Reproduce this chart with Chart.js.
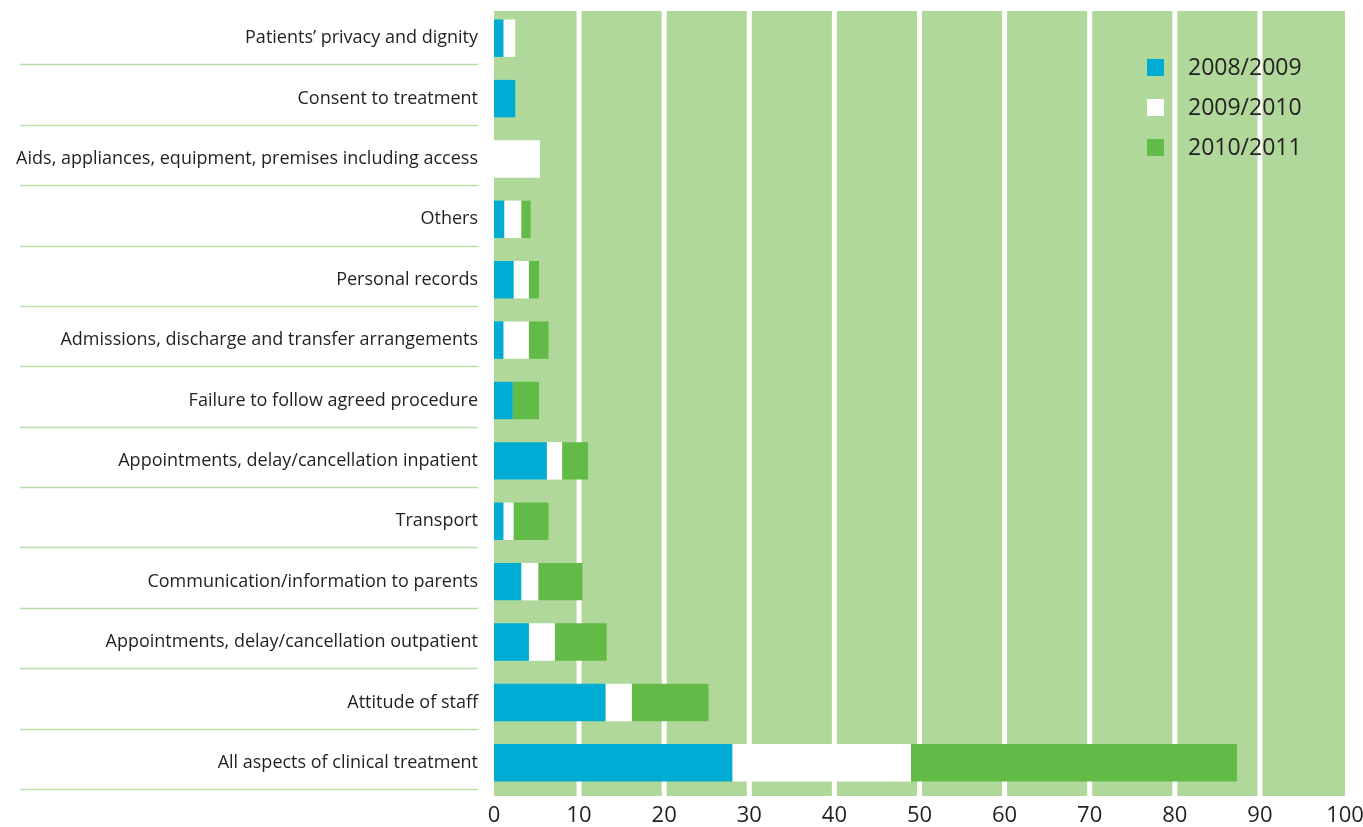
<!DOCTYPE html>
<html>
<head>
<meta charset="utf-8">
<script src="https://cdn.jsdelivr.net/npm/chart.js@4/dist/chart.umd.min.js"></script>
<style>
    html, body { margin: 0; padding: 0; background: #fff; }
    #wrap { position: relative; width: 1363px; height: 827px; }
</style>
</head>
<body>
<div id="wrap"><canvas id="complaints-chart"></canvas></div>
<script>
// Complaints by subject, stacked per financial year
const categories = [
    'Patients\u2019 privacy and dignity',
    'Consent to treatment',
    'Aids, appliances, equipment, premises including access',
    'Others',
    'Personal records',
    'Admissions, discharge and transfer arrangements',
    'Failure to follow agreed procedure',
    'Appointments, delay/cancellation inpatient',
    'Transport',
    'Communication/information to parents',
    'Appointments, delay/cancellation outpatient',
    'Attitude of staff',
    'All aspects of clinical treatment',
];

const years = ['2008/2009', '2009/2010', '2010/2011'];

const values0809 = [1.1, 2.5, 0,   1.2, 2.3, 1.1, 2.2, 6.2, 1.1, 3.2, 4.1, 13.1, 28.0];
const values0910 = [1.4, 0,   5.4, 2.0, 1.8, 3.0, 0,   1.8, 1.2, 2.0, 3.05, 3.1, 21.0];
const values1011 = [0,   0,   0,   1.1, 1.2, 2.3, 3.1, 3.05, 4.1, 5.2, 6.1, 9.0, 38.3];

const xTicks = [0, 10, 20, 30, 40, 50, 60, 70, 80, 90, 100];

const COLORS = ['#00abd4', '#ffffff', '#63bb47'];
const PANEL = '#b1d89b';
const RULE = '#b8dea5';
const TEXT = '#231f20';
const FONT = "'Open Sans', sans-serif";

// Green panel with white gaps at each tick
const panelPlugin = {
    id: 'panel',
    beforeDraw(chart) {
        const { ctx, chartArea: a, scales: { x } } = chart;
        ctx.save();
        ctx.fillStyle = PANEL;
        ctx.fillRect(a.left, a.top + 3, a.right - a.left, a.bottom - a.top);
        ctx.fillStyle = '#ffffff';
        xTicks.slice(1, -1).forEach(v => {
            const px = x.getPixelForValue(v);
            ctx.fillRect(px - 2.5, a.top + 3, 5, a.bottom - a.top);
        });
        ctx.restore();
    },
};

// Thin rules under each category label, and the legend in the top right
const decorPlugin = {
    id: 'decor',
    afterDraw(chart) {
        const { ctx, chartArea: a, scales: { y } } = chart;
        const step = y.getPixelForValue(1) - y.getPixelForValue(0);
        ctx.save();
        ctx.strokeStyle = RULE;
        ctx.lineWidth = 1.5;
        categories.forEach((_, i) => {
            const py = Math.round(y.getPixelForValue(i) + step / 2 - 4) + 0.5;
            ctx.beginPath();
            ctx.moveTo(20, py);
            ctx.lineTo(a.left - 16, py);
            ctx.stroke();
        });

        ctx.font = `23px ${FONT}`;
        ctx.textBaseline = 'middle';
        chart.data.datasets.forEach((ds, i) => {
            const cy = a.top + 59 + i * 40;
            const sx = a.right - 198;
            ctx.fillStyle = ds.backgroundColor;
            ctx.fillRect(sx, cy - 8, 17, 17);
            ctx.fillStyle = TEXT;
            ctx.fillText(ds.label, sx + 41, cy + 1);
        });
        ctx.restore();
    },
};

const series = [values0809, values0910, values1011];

new Chart(document.getElementById('complaints-chart'), {
    type: 'bar',
    data: {
        labels: categories,
        datasets: years.map((yr, i) => ({
            label: yr,
            data: series[i],
            backgroundColor: COLORS[i],
            borderWidth: 0,
            barPercentage: 0.62,
            categoryPercentage: 1,
        })),
    },
    options: {
        indexAxis: 'y',
        responsive: true,
        maintainAspectRatio: false,
        animation: false,
        layout: { padding: { top: 8, right: 18, left: 0, bottom: 0 } },
        plugins: {
            legend: { display: false },
            tooltip: { enabled: false },
        },
        scales: {
            x: {
                stacked: true,
                min: 0,
                max: 100,
                afterBuildTicks: s => { s.ticks = xTicks.map(v => ({ value: v })); },
                afterFit: s => {
                    s.height = 34;
                    s.paddingLeft = 0;
                    s.paddingRight = 0;
                },
                grid: { display: false },
                border: { display: false },
                ticks: {
                    font: { family: FONT, size: 22 },
                    color: TEXT,
                    padding: 2,
                    maxRotation: 0,
                },
            },
            y: {
                stacked: true,
                afterFit: s => {
                    s.width = 494;
                    s.paddingTop = 0;
                    s.paddingBottom = 0;
                },
                grid: { display: false, drawTicks: false },
                border: { display: false },
                ticks: {
                    font: { family: FONT, size: 18 },
                    color: TEXT,
                    padding: 16,
                    autoSkip: false,
                },
            },
        },
    },
    plugins: [panelPlugin, decorPlugin],
});
</script>
</body>
</html>
